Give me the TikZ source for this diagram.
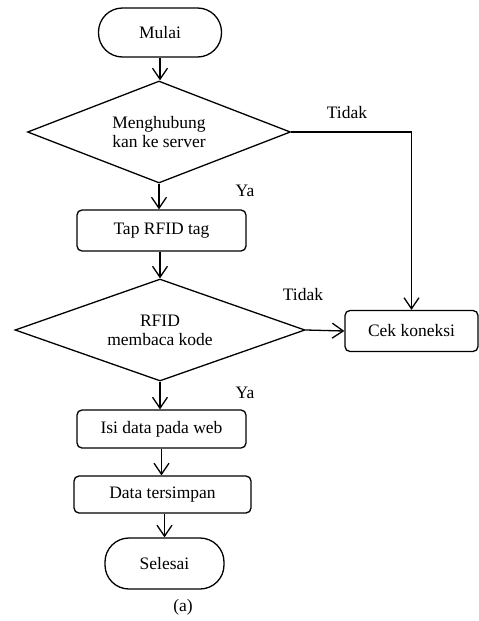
\documentclass[tikz,border=0pt]{standalone}
\usepackage{fontspec}
\setmainfont{Liberation Serif}
\usetikzlibrary{shapes.geometric,arrows.meta}
\begin{document}
\begin{tikzpicture}[x=1pt,y=-1pt,
  every node/.style={font=\fontsize{17.5}{19}\selectfont},
  box/.style={draw,line width=1.3pt,rectangle,rounded corners=5pt,inner sep=0pt},
  term/.style={draw,line width=1.3pt,rectangle,rounded corners=24pt,inner sep=0pt},
  dec/.style={draw,line width=1.3pt,diamond,shape aspect=2.6,inner sep=0pt,align=center},
  lbl/.style={inner sep=0pt},
  conn/.style={line width=1.3pt,-{Straight Barb[length=11pt,width=15pt,line width=1.3pt]}}
]
\useasboundingbox (0,0) rectangle (479,621);
\node[term,minimum width=123pt,minimum height=49pt] (start) at (160,32.5) {Mulai};
\node[dec,minimum width=263pt,minimum height=102pt] (d1) at (159,132) {Menghubung\\kan ke server};
\node[box,minimum width=169pt,minimum height=41pt] (tap) at (161.5,230.5) {Tap RFID tag};
\node[dec,minimum width=290pt,minimum height=102pt] (d2) at (160,330) {RFID\\membaca kode};
\node[box,minimum width=133pt,minimum height=41pt] (cek) at (411.5,331) {Cek koneksi};
\node[box,minimum width=169pt,minimum height=38pt] (isi) at (161.5,429) {Isi data pada web};
\node[box,minimum width=177pt,minimum height=37pt] (simpan) at (162.5,494.5) {Data tersimpan};
\node[term,minimum width=119pt,minimum height=51pt] (end) at (164.5,563.5) {Selesai};
\node[lbl] (cap) at (183,607) {(a)};
\node[lbl] (t1) at (347,113) {Tidak};
\node[lbl] (y1) at (245,191) {Ya};
\node[lbl] (t2) at (303,295) {Tidak};
\node[lbl] (y2) at (245,393) {Ya};
\draw[conn] (start.south) -- (start.south |- d1.north);
\draw[conn] (d1.south) -- (d1.south |- tap.north);
\draw[conn] (d2.north |- tap.south) -- (d2.north);
\draw[conn] (d2.south) -- (d2.south |- isi.north);
\draw[conn] (isi.south) -- (isi.south |- simpan.north);
\draw[conn] (end.north |- simpan.south) -- (end.north);
\draw[conn] (d1.east) -| (cek.north);
\draw[conn] (d2.east) -- (cek.west);
\end{tikzpicture}
\end{document}
